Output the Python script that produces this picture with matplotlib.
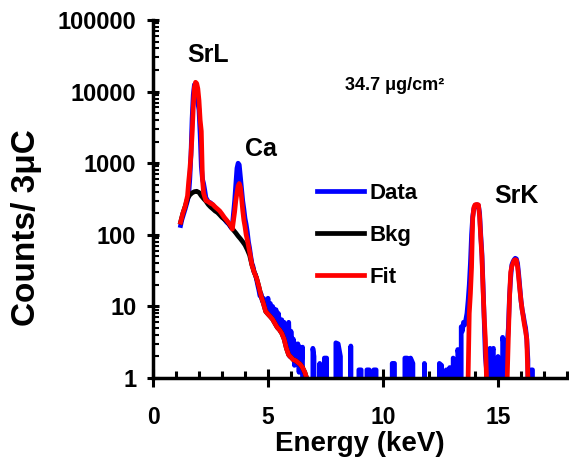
import numpy as np
import matplotlib
matplotlib.use("Agg")
import matplotlib.pyplot as plt
from matplotlib import ticker

plt.rcParams["font.family"] = ["Liberation Sans", "DejaVu Sans"]
plt.rcParams["font.weight"] = "bold"

# measured spectrum (counts per channel, 0 = empty channel)
data_energy = [
    1.20, 1.25, 1.30, 1.40, 1.50, 1.55, 1.60, 1.65, 1.70, 1.75, 1.80, 1.85,
    1.90, 1.95, 2.00, 2.05, 2.10, 2.15, 2.20, 2.25, 2.30, 2.40, 2.50, 2.60,
    2.70, 2.80, 2.90, 3.00, 3.10, 3.20, 3.30, 3.40, 3.45, 3.50, 3.55, 3.60,
    3.65, 3.70, 3.75, 3.80, 3.85, 3.90, 3.95, 4.00, 4.05, 4.10, 4.15, 4.20,
    4.25, 4.30, 4.35, 4.40, 4.45, 4.50, 4.55, 4.60, 4.65, 4.70, 4.75, 4.80,
    4.85, 4.90, 4.95, 5.00, 5.05, 5.10, 5.15, 5.20, 5.25, 5.30, 5.35, 5.40,
    5.45, 5.50, 5.55, 5.60, 5.65, 5.70, 5.75, 5.80, 5.85, 5.90, 5.95, 6.00,
    6.05, 6.10, 6.15, 6.20, 6.25, 6.30, 6.35, 6.40, 6.45, 6.50, 6.55,
    6.90, 6.95, 7.00, 7.05, 7.20, 7.25, 7.30, 7.40, 7.45, 7.55, 7.60,
    7.90, 7.95, 8.05, 8.15, 8.20, 8.55, 8.60, 8.65, 8.90, 8.95, 9.05, 9.10,
    9.25, 9.30, 9.40, 9.45, 9.55, 9.60, 9.70, 9.75, 10.35, 10.40, 10.50,
    10.55, 10.90, 10.95, 11.05, 11.10, 11.15, 11.20, 11.30, 11.35, 11.75,
    11.80, 11.85, 12.40, 12.45, 12.55, 12.60, 12.70, 12.75, 12.80, 12.85,
    12.90, 12.95, 13.00, 13.05, 13.15, 13.20, 13.25, 13.30, 13.35, 13.40,
    13.45, 13.50, 13.55, 13.60, 13.65, 13.70, 13.75, 13.80, 13.85, 13.90,
    13.95, 14.00, 14.05, 14.10, 14.15, 14.20, 14.25, 14.30, 14.35, 14.40,
    14.45, 14.50, 14.55, 14.60, 14.65, 14.70, 14.80, 14.85, 14.95, 15.00,
    15.05, 15.15, 15.20, 15.25, 15.30, 15.35, 15.40, 15.45, 15.50, 15.55,
    15.60, 15.65, 15.70, 15.75, 15.80, 15.85, 15.90, 15.95, 16.00, 16.05,
    16.10, 16.15, 16.20, 16.25, 16.30, 16.35, 16.40, 16.45, 16.50, 16.55,
]
data_counts = [
    135, 160, 180, 230, 300, 360, 600, 1300, 4200, 9000, 12500, 12000,
    9500, 7000, 5500, 2500, 900, 600, 520, 420, 330, 290, 280, 260,
    240, 220, 200, 180, 165, 150, 140, 125, 135, 200, 300, 500,
    850, 1000, 950, 650, 450, 300, 230, 170, 140, 110, 80, 65,
    50, 40, 36, 30, 28, 24, 20, 17, 14, 15, 12, 13,
    10, 12, 11, 13, 9, 11, 8, 10, 9, 7, 9, 6,
    8, 6, 5, 6.5, 4, 6, 3.5, 5, 3, 6, 2, 4.5,
    2.5, 3.5, 1.5, 3, 2, 3, 1.2, 2.7, 1.5, 2.7, 0,
    0, 2.6, 2.0, 0, 0, 1.6, 0, 0, 1.9, 1.9, 0,
    0, 3.1, 3.0, 2.0, 0, 0, 2.8, 0, 0, 1.3, 1.3, 0,
    0, 1.3, 1.3, 0, 0, 1.3, 1.3, 0, 0, 1.6, 1.6,
    0, 0, 1.9, 1.9, 0, 0, 1.9, 1.6, 0, 0,
    1.6, 0, 0, 1.6, 1.5, 0, 0, 1.3, 0, 0,
    1.4, 0, 0, 1.9, 1.6, 0, 2.5, 2.0, 0, 5.2,
    4.5, 6.0, 5.5, 6.5, 8, 12, 20, 40, 100, 180,
    230, 255, 260, 262, 255, 200, 100, 55, 20, 6,
    2, 1.3, 0, 0, 2.6, 2.2, 2.6, 0, 0, 2.0,
    0, 0, 3.7, 3.0, 0, 2.2, 3.0, 5, 14, 25,
    38, 42, 45, 47, 46, 40, 28, 18, 12, 9,
    7.5, 6, 5, 3.5, 1.8, 0, 0, 1.3, 1.3, 0,
]

# fitted background
bkg_energy = [
    1.20, 1.30, 1.40, 1.50, 1.60, 1.70, 1.80, 1.90, 2.00, 2.10, 2.20, 2.30,
    2.40, 2.50, 2.60, 2.70, 2.80, 2.90, 3.00, 3.10, 3.20, 3.30, 3.40, 3.50,
    3.60, 3.70, 3.80, 3.90, 4.00, 4.10, 4.20, 4.30, 4.40, 4.50, 4.60, 4.70,
    4.80, 4.90, 5.00, 5.10, 5.20, 5.30, 5.40, 5.50, 5.60, 5.70, 5.80, 5.90,
    6.00, 6.10, 6.20, 6.30, 6.40, 6.50, 6.60, 6.70,
]
bkg_counts = [
    150, 200, 250, 320, 360, 385, 400, 405, 390, 350, 320, 295,
    265, 245, 230, 215, 205, 190, 175, 165, 155, 142, 128, 116,
    106, 96, 88, 80, 72, 62, 52, 38, 30, 25, 19, 14,
    11, 8.5, 7.8, 7.2, 6.6, 5.8, 5.1, 4.7, 4.2, 3.5, 2.6, 2.1,
    1.95, 1.8, 1.75, 1.65, 1.55, 1.4, 1.2, 0.95,
]

# total fit (background + peaks)
fit_energy = [
    1.20, 1.30, 1.40, 1.50, 1.55, 1.60, 1.65, 1.70, 1.75, 1.80, 1.85, 1.90,
    1.95, 2.00, 2.05, 2.10, 2.15, 2.20, 2.30, 2.40, 2.50, 2.60, 2.70, 2.80,
    2.90, 3.00, 3.10, 3.20, 3.30, 3.40, 3.45, 3.50, 3.55, 3.60, 3.65, 3.70,
    3.75, 3.80, 3.85, 3.90, 3.95, 4.00, 4.05, 4.10, 4.15, 4.20, 4.30, 4.40,
    4.50, 4.60, 4.70, 4.80, 4.90, 5.00, 5.10, 5.20, 5.30, 5.40, 5.50, 5.60,
    5.70, 5.80, 5.90, 6.00, 6.10, 6.20, 6.30, 6.40, 6.50, 6.60, 6.70, 6.75,
    13.65, 13.70, 13.75, 13.80, 13.85, 13.90, 13.95, 14.00, 14.05, 14.10,
    14.15, 14.20, 14.25, 14.30, 14.35, 14.40, 14.45, 14.50, 14.55,
    15.35, 15.40, 15.45, 15.50, 15.55, 15.60, 15.65, 15.70, 15.75, 15.80,
    15.85, 15.90, 15.95, 16.00, 16.05, 16.10, 16.15, 16.20, 16.25, 16.30,
    16.35,
]
fit_counts = [
    150, 200, 250, 350, 550, 800, 1300, 2500, 6000, 11500, 13500, 13000,
    11000, 7500, 4000, 2800, 600, 380, 300, 290, 275, 265, 245, 230,
    215, 195, 175, 160, 145, 130, 120, 160, 210, 300, 380, 480,
    520, 460, 330, 220, 160, 130, 100, 85, 70, 58, 38, 30,
    25, 19, 14, 11, 8.5, 7.8, 7.2, 6.6, 5.8, 5.1, 4.7, 4.2,
    3.5, 2.6, 2.1, 1.95, 1.8, 1.75, 1.65, 1.55, 1.4, 1.2, 0.95, 0.1,
    0.1, 1.0, 8, 15, 35, 170, 240, 262, 265, 265,
    262, 180, 90, 50, 17, 7, 3.5, 1.0, 0.1,
    0.1, 1.0, 3.7, 13, 30, 36, 40, 44, 45, 44,
    36, 25, 17, 12, 9, 7, 5.5, 4.5, 3.5, 1.0,
    0.1,
]

x_ticks = [0, 5, 10, 15]
y_ticks = [1, 10, 100, 1000, 10000, 100000]
y_ticklabels = ["1", "10", "100", "1000", "10000", "100000"]


def main():
    fig = plt.figure(figsize=(5.69, 4.63), dpi=100)
    ax = fig.add_axes([0.2689, 0.1836, 0.7276, 0.7732])

    ax.plot(data_energy, data_counts, color="#0000ff", lw=3.4,
            solid_joinstyle="round", label="Data")
    ax.plot(bkg_energy, bkg_counts, color="black", lw=3.4, label="Bkg")
    ax.plot(fit_energy, fit_counts, color="#ff0000", lw=3.4, label="Fit")

    ax.set_yscale("log", nonpositive="clip")
    ax.set_xlim(0, 18)
    ax.set_ylim(1, 100000)

    ax.set_xticks(x_ticks)
    ax.xaxis.set_minor_locator(ticker.MultipleLocator(1))
    ax.set_yticks(y_ticks)
    ax.set_yticklabels(y_ticklabels)
    ax.yaxis.set_minor_locator(ticker.LogLocator(base=10, subs=np.arange(2, 10)))
    ax.yaxis.set_minor_formatter(ticker.NullFormatter())

    for side in ["top", "right"]:
        ax.spines[side].set_visible(False)
    for side in ["left", "bottom"]:
        ax.spines[side].set_linewidth(2.5)

    ax.tick_params(axis="x", which="major", direction="inout", length=13,
                   width=2.2, pad=14, labelsize=16.5)
    ax.tick_params(axis="x", which="minor", direction="in", length=5, width=2.2)
    ax.tick_params(axis="y", which="major", direction="inout", length=8,
                   width=2.2, pad=8, labelsize=17)
    ax.tick_params(axis="y", which="minor", direction="in", length=4, width=1.5)
    for lab in ax.get_xticklabels() + ax.get_yticklabels():
        lab.set_fontweight("bold")

    ax.set_xlabel("Energy (keV)", fontsize=20, fontweight="bold", labelpad=1)
    fig.text(27 / 569, 1 - 228 / 463, "Counts/ 3\u03bcC", rotation=90,
             ha="center", va="center", fontsize=24, fontweight="bold")

    # peak labels
    ax.text(2.4, 32000, "SrL", ha="center", va="center", fontsize=18,
            fontweight="bold")
    ax.text(4.7, 1600, "Ca", ha="center", va="center", fontsize=18,
            fontweight="bold")
    ax.text(15.8, 350, "SrK", ha="center", va="center", fontsize=18,
            fontweight="bold")
    ax.text(10.5, 12000, "34.7 \u03bcg/cm\u00b2", ha="center", va="center",
            fontsize=13, fontweight="bold")

    ax.legend(loc="upper left", bbox_to_anchor=(0.396, 0.545), frameon=False,
              borderpad=0, borderaxespad=0, handlelength=2.1,
              handletextpad=0.25, labelspacing=0.95,
              prop={"weight": "bold", "size": 16})

    fig.savefig("out.png", dpi=100)


if __name__ == "__main__":
    main()
